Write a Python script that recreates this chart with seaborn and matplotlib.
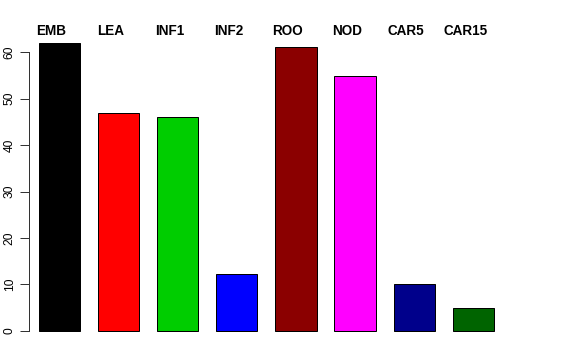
import matplotlib
matplotlib.use("Agg")
import matplotlib.pyplot as plt
import seaborn as sns
import pandas as pd

categories = ["EMB", "LEA", "INF1", "INF2", "ROO", "NOD", "CAR5", "CAR15"]
values = [62.0, 46.9, 46.0, 12.3, 61.1, 54.8, 10.2, 5.0]
colors = ["#000000", "#FF0000", "#00CD00", "#0000FF", "#8B0000", "#FF00FF", "#00008B", "#006400"]
yticks = [0, 10, 20, 30, 40, 50, 60]

sns.set_style("white")
plt.rcParams["font.family"] = ["Liberation Sans", "DejaVu Sans"]
plt.rcParams["text.color"] = "black"
plt.rcParams["ytick.color"] = "black"

df = pd.DataFrame({"cat": categories, "val": values})

fig = plt.figure(figsize=(8, 5), dpi=72)
ax = fig.add_axes([0.0509, 0.0486, 0.874 - 0.0509, 0.9133 - 0.0486])
sns.barplot(data=df, x="cat", y="val", hue="cat", palette=colors, order=categories,
            hue_order=categories, width=0.7, edgecolor="black", linewidth=1.0,
            legend=False, ax=ax, saturation=1)

ax.set_xlim(-0.507, 7.507)
ax.set_ylim(-2.48, 64.48)
for s in ["top", "right", "bottom"]:
    ax.spines[s].set_visible(False)
ax.spines["left"].set_bounds(0, 60)
ax.spines["left"].set_color("#333333")
ax.spines["left"].set_linewidth(1.0)
ax.set_yticks(yticks)
ax.set_yticklabels([str(t) for t in yticks], rotation=90, va="center", fontsize=12, color="black")
ax.tick_params(axis="y", left=True, length=8.6, width=1.0, pad=5, color="#333333")
ax.set_xticks([])
ax.set_xlabel("")
ax.set_ylabel("")

for i, c in enumerate(categories):
    ax.text(i - 0.135, 64.5, c, ha="center", va="center", fontsize=13.5, fontweight="bold",
            color="black", clip_on=False)

fig.savefig("out.png", dpi=72)
